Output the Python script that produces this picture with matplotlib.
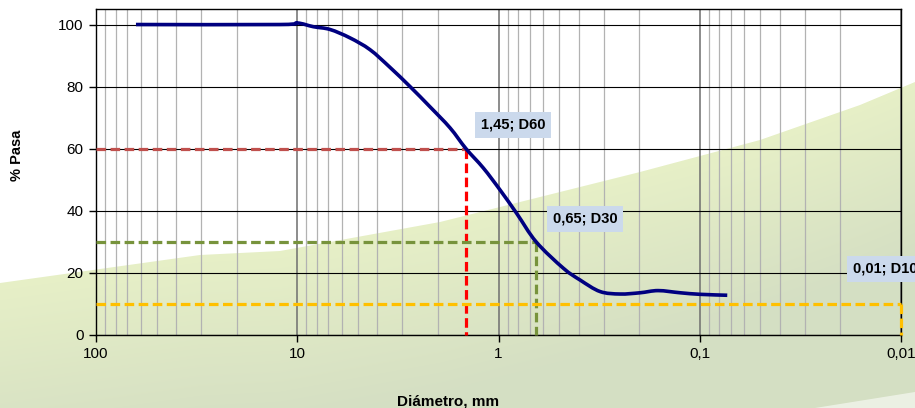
import numpy as np
import matplotlib
matplotlib.use("Agg")
import matplotlib.pyplot as plt
from matplotlib.ticker import LogLocator, NullFormatter
from matplotlib.path import Path
from matplotlib.patches import PathPatch

# grain size curve
diam_mm = [63.3, 12.2, 10.0, 8.32, 6.87, 5.47, 4.35, 3.46, 2.75, 2.19, 1.74, 1.45, 1.19,
           0.982, 0.811, 0.65, 0.476, 0.393, 0.313, 0.249, 0.198, 0.161, 0.125, 0.0995, 0.073]
pct_pass = [100, 100, 100.5, 99.3, 98.4, 95.7, 91.9, 86.2, 80.0, 73.5, 66.7, 60, 53.8,
            46.7, 39.1, 30, 21.5, 17.7, 14.0, 13.2, 13.6, 14.3, 13.6, 13.1, 12.8]

d_sizes = [1.45, 0.65, 0.01]          # D60, D30, D10
d_levels = [60, 30, 10]
d_labels = ["1,45; D60", "0,65; D30", "0,01; D10"]

x_ticks = [100, 10, 1, 0.1, 0.01]
x_ticklabels = ["100", "10", "1", "0,1", "0,01"]
y_ticks = [0, 20, 40, 60, 80, 100]

plt.rcParams['font.family'] = ['Liberation Sans', 'DejaVu Sans']

W, H = 915, 408
fig = plt.figure(figsize=(W / 100, H / 100), dpi=100)
fig.patch.set_facecolor("white")

# green swoosh in the background
bg = fig.add_axes([0, 0, 1, 1], zorder=-10)
bg.set_xlim(0, W)
bg.set_ylim(H, 0)
bg.axis("off")
edge_x = [0, 200, 280, 440, 640, 760, 860, 915]
edge_y = [283, 255, 251, 222, 172, 140, 105, 82]
xx, yy = np.meshgrid(np.arange(W) + 0.5, np.arange(H) + 0.5)
top = np.interp(xx, edge_x, edge_y)
t = np.clip((yy - top) / 170, 0, 1)
light = np.array([0.905, 0.94, 0.78])
dark = np.array([0.835, 0.875, 0.765])
img = np.ones((H, W, 4))
img[..., :3] = light + (dark - light) * t[..., None]
img[..., 3] = np.clip(yy - top + 0.5, 0, 1)
bg.imshow(img, extent=(0, W, H, 0), interpolation="bilinear")
bg.fill([815, 915, 915], [408, 392, 408], color="white", alpha=0.55, lw=0)

ax = fig.add_axes([96 / W, 1 - 335 / H, 805 / W, 326 / H])
ax.patch.set_alpha(0)
ax.set_xscale("log")
ax.set_xlim(100, 0.01)
ax.set_ylim(0, 105)

ax.xaxis.set_minor_locator(LogLocator(base=10, subs=np.arange(2, 10)))
ax.xaxis.set_minor_formatter(NullFormatter())
ax.set_xticks(x_ticks)
ax.set_xticklabels(x_ticklabels)
ax.set_yticks(y_ticks)
ax.set_axisbelow(True)
ax.grid(axis="x", which="minor", color="#b2b2b2", lw=0.9)
ax.grid(axis="x", which="major", color="#6e6e6e", lw=1.1)
ax.grid(axis="y", which="major", color="black", lw=0.8)
ax.tick_params(which="major", direction="out", length=5, width=1, labelsize=11, pad=4)
ax.tick_params(which="minor", length=0)
for s in ax.spines.values():
    s.set_color("black")
    s.set_linewidth(1)

# D60 / D30 / D10 guide lines
h_colors = ["#C0504D", "#77933C", "#FFC000"]
v_colors = ["#FF0000", "#77933C", "#FFC000"]
for d, lev, hc, vc in zip(d_sizes, d_levels, h_colors, v_colors):
    ax.plot([100, d], [lev, lev], color=hc, lw=2.3, dashes=(3, 1.4), zorder=3, clip_on=False)
    ax.plot([d, d], [lev, 0], color=vc, lw=2.3, dashes=(3, 1.4), zorder=3, clip_on=False)

# smoothed line (like a spreadsheet "smooth line"): bezier through the points in log space
u = np.log10(diam_mm)
v = np.array(pct_pass, dtype=float)
verts = [(u[0], v[0])]
codes = [Path.MOVETO]
n = len(u)
for i in range(n - 1):
    p0 = np.array([u[max(i - 1, 0)], v[max(i - 1, 0)]])
    p1 = np.array([u[i], v[i]])
    p2 = np.array([u[i + 1], v[i + 1]])
    p3 = np.array([u[min(i + 2, n - 1)], v[min(i + 2, n - 1)]])
    c1 = p1 + (p2 - p0) / 6
    c2 = p2 - (p3 - p1) / 6
    verts += [tuple(c1), tuple(c2), tuple(p2)]
    codes += [Path.CURVE4] * 3
verts = [(10 ** a, b) for a, b in verts]
curve = PathPatch(Path(verts, codes), fc="none", ec="#000080", lw=2.6, zorder=4,
                  joinstyle="round", capstyle="butt")
ax.add_patch(curve)

box = dict(boxstyle="square,pad=0.4", fc="#cbd9ec", ec="none")
ax.text(0.846, 67.7, d_labels[0], ha="center", va="center", fontsize=10.5,
        fontweight="bold", bbox=box, zorder=5)
ax.text(0.371, 37.4, d_labels[1], ha="center", va="center", fontsize=10.5,
        fontweight="bold", bbox=box, zorder=5)
ax.text(0.0173, 21.3, d_labels[2], ha="left", va="center", fontsize=10.5,
        fontweight="bold", bbox=box, zorder=5, clip_on=False)

fig.text(17 / W, 1 - 155 / H, "% Pasa", rotation=90, ha="center", va="center",
         fontsize=10.5, fontweight="bold")
fig.text(448 / W, 2 / H, "Diámetro, mm", ha="center", va="baseline",
         fontsize=11, fontweight="bold")

fig.savefig("out.png", dpi=100)
